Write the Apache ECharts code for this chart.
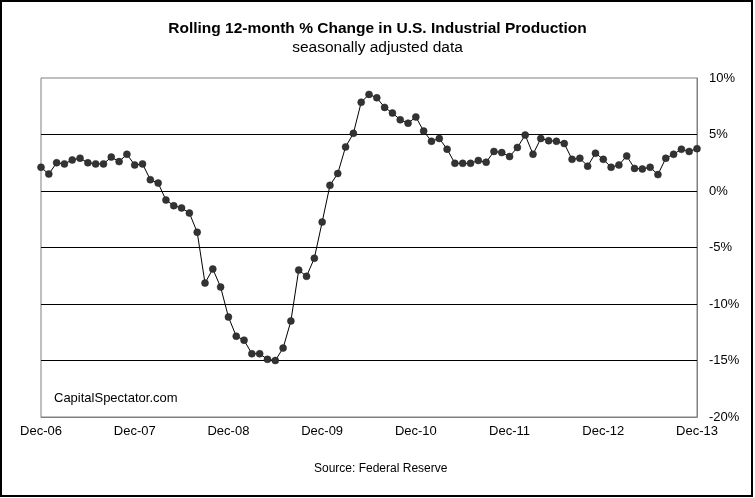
<!DOCTYPE html>
<html>
<head>
<meta charset="utf-8">
<script src="https://cdn.jsdelivr.net/npm/echarts@6/dist/echarts.min.js"></script>
<style>
html,body{margin:0;padding:0;background:#fff;}
#chart{width:755px;height:498px;}
</style>
</head>
<body>
<div id="chart"></div>
<script>
// Monthly categories Dec-06 .. Dec-13
const monthAbbr = ['Jan','Feb','Mar','Apr','May','Jun','Jul','Aug','Sep','Oct','Nov','Dec'];
const categories = [];
for (let i = 0; i < 85; i++) {
  const m = (11 + i) % 12;
  const y = 2006 + Math.floor((11 + i) / 12);
  categories.push(monthAbbr[m] + '-' + String(y).slice(2));
}
// Rolling 12-month % change
const ipChange = [
  2.1, 1.5, 2.5, 2.4, 2.75, 2.9, 2.5, 2.4, 2.4, 3.0, 2.6, 3.25,
  2.3, 2.4, 1.0, 0.7, -0.8, -1.3, -1.5, -1.95, -3.65, -8.15, -6.9, -8.5,
  -11.15, -12.85, -13.2, -14.4, -14.4, -14.9, -15.0, -13.9, -11.5, -7.0, -7.55, -5.95,
  -2.75, 0.5, 1.55, 3.9, 5.1, 7.85, 8.55, 8.25, 7.4, 6.9, 6.3, 6.0,
  6.55, 5.3, 4.4, 4.65, 3.7, 2.45, 2.45, 2.45, 2.7, 2.55, 3.5, 3.4,
  3.05, 3.85, 4.95, 3.25, 4.65, 4.45, 4.4, 4.2, 2.8, 2.9, 2.2, 3.35,
  2.8, 2.1, 2.3, 3.1, 2.0, 1.95, 2.1, 1.45, 2.9, 3.25, 3.7, 3.5,
  3.75
];
const yTicks = { min: -20, max: 10, interval: 5 };

const font = 'Liberation Sans, Arial, sans-serif';
const chart = echarts.init(document.getElementById('chart'), null, { renderer: 'canvas' });
chart.setOption({
  animation: false,
  backgroundColor: '#fff',
  textStyle: { fontFamily: font },
  title: [
    { text: 'Rolling 12-month % Change in U.S. Industrial Production', left: 'center', top: 21, padding: 0,
      textStyle: { fontSize: 15.5, fontWeight: 'bold', color: '#000', lineHeight: 16, fontFamily: font } },
    { text: 'seasonally adjusted data', left: 'center', top: 40, padding: 0,
      textStyle: { fontSize: 15.5, fontWeight: 'normal', color: '#000', lineHeight: 16, fontFamily: font } },
    { text: 'CapitalSpectator.com', left: 54, top: 390, padding: 0,
      textStyle: { fontSize: 13, fontWeight: 'normal', color: '#000', lineHeight: 16, fontFamily: font } },
    { text: 'Source: Federal Reserve', left: 314, top: 461, padding: 0,
      textStyle: { fontSize: 12, fontWeight: 'normal', color: '#000', lineHeight: 16, fontFamily: font } }
  ],
  graphic: [
    { type: 'rect', shape: { x: 1, y: 1, width: 751, height: 495 },
      style: { fill: null, stroke: '#000', lineWidth: 2 }, silent: true }
  ],
  grid: { left: 41, right: 58, top: 78, bottom: 81, show: true, borderColor: '#808080', borderWidth: 1, backgroundColor: '#fff' },
  xAxis: {
    type: 'category',
    data: categories,
    boundaryGap: false,
    axisLine: { show: true, onZero: false, lineStyle: { color: '#808080', width: 1 } },
    axisTick: { show: false },
    axisLabel: { interval: 11, fontSize: 13, color: '#000', margin: 8, fontFamily: font },
    splitLine: { show: false }
  },
  yAxis: {
    type: 'value',
    position: 'right',
    min: yTicks.min, max: yTicks.max, interval: yTicks.interval,
    axisLine: { show: true, lineStyle: { color: '#808080', width: 1 } },
    axisTick: { show: false },
    axisLabel: { formatter: '{value}%', fontSize: 13, color: '#000', margin: 12, align: 'left', fontFamily: font },
    splitLine: { show: true, showMinLine: false, showMaxLine: false, lineStyle: { color: '#000', width: 1 } }
  },
  series: [{
    type: 'line',
    data: ipChange,
    symbol: 'circle',
    symbolSize: 7,
    showAllSymbol: true,
    lineStyle: { color: '#000', width: 1 },
    itemStyle: { color: '#333', borderColor: '#222', borderWidth: 0.5 }
  }]
});
</script>
</body>
</html>
